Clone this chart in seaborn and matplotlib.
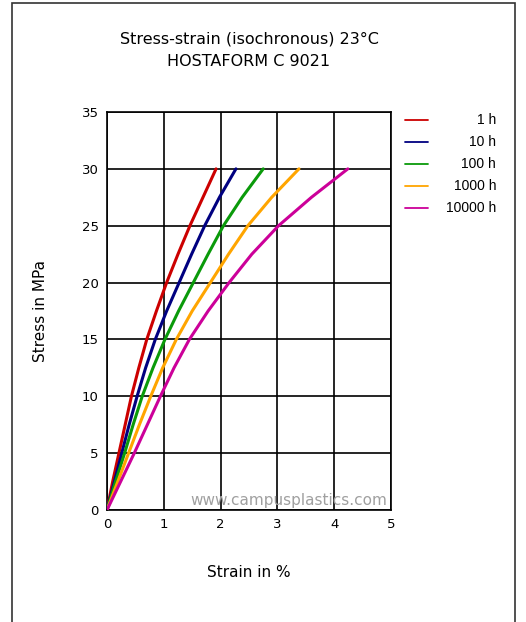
import pandas as pd
import numpy as np
import matplotlib
matplotlib.use('Agg')
import matplotlib.pyplot as plt
import seaborn as sns
from matplotlib.lines import Line2D
from matplotlib.patches import Rectangle

# Values (stress in MPa, strain in %)
stress = [0, 2.5, 5, 7.5, 10, 12.5, 15, 17.5, 20, 22.5, 25, 27.5, 30]
strain_1h = [0, 0.10, 0.21, 0.32, 0.43, 0.56, 0.70, 0.87, 1.05, 1.25, 1.46, 1.69, 1.92]
strain_10h = [0, 0.13, 0.26, 0.39, 0.53, 0.68, 0.85, 1.05, 1.27, 1.49, 1.72, 1.98, 2.27]
strain_100h = [0, 0.15, 0.31, 0.46, 0.62, 0.81, 1.02, 1.26, 1.52, 1.78, 2.05, 2.38, 2.75]
strain_1000h = [0, 0.19, 0.38, 0.57, 0.77, 0.98, 1.22, 1.50, 1.82, 2.14, 2.48, 2.90, 3.38]
strain_10000h = [0, 0.24, 0.48, 0.71, 0.94, 1.18, 1.45, 1.78, 2.15, 2.55, 3.02, 3.60, 4.24]

series_names = ['1 h', '10 h', '100 h', '1000 h', '10000 h']
series_values = [strain_1h, strain_10h, strain_100h, strain_1000h, strain_10000h]
colors = ['#cc0000', '#000080', '#0a9a0a', '#ffa500', '#cc0099']

x_ticks = [0, 1, 2, 3, 4, 5]
y_ticks = [0, 5, 10, 15, 20, 25, 30, 35]

# long-form table for seaborn
frames = []
for name, vals in zip(series_names, series_values):
    frames.append(pd.DataFrame({'Strain': vals, 'Stress': stress, 'Time': name}))
df = pd.concat(frames, ignore_index=True)

sns.set_style('white')
plt.rcParams['font.family'] = ['DejaVu Sans']
plt.rcParams['text.color'] = 'black'
plt.rcParams['axes.labelcolor'] = 'black'
plt.rcParams['xtick.color'] = 'black'
plt.rcParams['ytick.color'] = 'black'

fig = plt.figure(figsize=(5.26, 6.22), dpi=100)
ax = fig.add_axes([107 / 526, 1 - 510 / 622, 284 / 526, 398 / 622])

palette = dict(zip(series_names, colors))
sns.lineplot(data=df, x='Strain', y='Stress', hue='Time', palette=palette,
             sort=False, estimator=None, linewidth=2.2, legend=False, ax=ax,
             zorder=3)

ax.set_xlim(0, 5)
ax.set_ylim(0, 35)
ax.set_xticks(x_ticks)
ax.set_yticks(y_ticks)
ax.grid(True, color='black', linewidth=1.2)
ax.set_axisbelow(True)
for s in ax.spines.values():
    s.set_color('black')
    s.set_linewidth(1.2)
ax.tick_params(length=0, labelsize=9.5, pad=6)

ax.set_xlabel('Strain in %', fontsize=11, labelpad=24)
ax.set_ylabel('Stress in MPa', fontsize=11, labelpad=24)
ax.set_title('Stress-strain (isochronous) 23°C\nHOSTAFORM C 9021',
             fontsize=11.5, pad=33, linespacing=1.6)

# watermark
ax.text(0.985, 0.005, 'www.campusplastics.com', transform=ax.transAxes,
        ha='right', va='bottom', fontsize=11, color='#a0a0a0', zorder=4)

# legend drawn at the right of the plot
for i, (name, c) in enumerate(zip(series_names, colors)):
    yy = 1 - (120 + 22 * i) / 622
    fig.add_artist(Line2D([405 / 526, 428 / 526], [yy, yy], color=c,
                          linewidth=1.3, transform=fig.transFigure))
    fig.text(496 / 526, yy, name, ha='right', va='center', fontsize=10,
             family='Liberation Sans')

# outer frame
fig.add_artist(Rectangle((12 / 526, -0.05), 503 / 526, 1.05 - 3 / 622,
                         fill=False, edgecolor='#333333', linewidth=1.2,
                         transform=fig.transFigure))

fig.savefig('out.png', dpi=100)
